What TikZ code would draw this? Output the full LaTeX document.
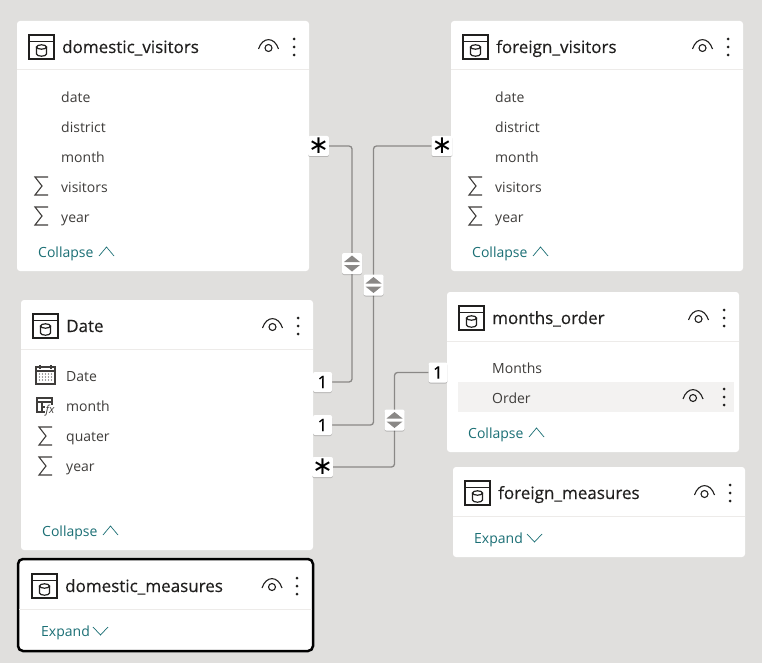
\documentclass[tikz,border=0pt]{standalone}
\usepackage{fontspec}
\setmainfont{Open Sans}
\newfontfamily\titlefont[FakeBold=0.35]{Open Sans}
\newfontfamily\symfont{DejaVu Sans}
\usetikzlibrary{backgrounds,shadows}
\definecolor{canvas}{HTML}{E0DFDD}
\definecolor{rowtxt}{HTML}{3F3D3B}
\definecolor{teal1}{HTML}{1B6F75}
\definecolor{conn1}{HTML}{8A8886}
\definecolor{hl}{HTML}{F3F2F1}
\definecolor{rule1}{HTML}{EDEBE9}
\definecolor{ink}{HTML}{201F1E}
\tikzset{
  x=1pt,y=-1pt,
  softshadow/.style={drop shadow={shadow xshift=0pt,shadow yshift=-1pt,opacity=.18,fill=black}},
  cardbox/.style={fill=white,rounded corners=3pt,inner sep=0pt,outer sep=0pt,anchor=north west},
  selbox/.style={draw=black,line width=2.5pt,rounded corners=5pt,fill=white,inner sep=0pt,outer sep=0pt,anchor=north west},
  titletxt/.style={font=\titlefont\fontsize{17}{20}\selectfont,text=ink,anchor=base west,inner sep=0pt},
  rowlabel/.style={font=\fontsize{14}{17}\selectfont,text=rowtxt,anchor=base west,inner sep=0pt},
  foldlabel/.style={font=\fontsize{14}{17}\selectfont,text=teal1,anchor=base west,inner sep=0pt},
  badge/.style={fill=white,rounded corners=2pt,minimum width=19pt,minimum height=20pt,inner sep=0pt,outer sep=0pt,text=black,softshadow},
  onebadge/.style={badge,font=\titlefont\fontsize{17}{17}\selectfont},
  starbadge/.style={badge,font=\symfont\fontsize{25}{25}\selectfont},
  arrowbadge/.style={fill=white,rounded corners=2pt,minimum width=20pt,minimum height=21pt,inner sep=0pt,outer sep=0pt,softshadow},
  connline/.style={draw=conn1,line width=1.3pt,rounded corners=3pt},
  iconline/.style={draw=ink,line width=1.6pt},
  fieldicon/.style={draw=rowtxt,line width=1.1pt},
  chev/.style={draw=teal1,line width=0.7pt},
  pics/tableicon/.style={code={
    \draw[iconline] (0,0) rectangle (25,24);
    \draw[iconline] (0,6.5) -- (25,6.5);
    \draw[draw=ink,line width=1.2pt] (7.5,12) -- (7.5,19) arc[start angle=180,end angle=360,x radius=5,y radius=-2.2] -- (17.5,12);
    \draw[draw=ink,line width=1.2pt] (12.5,12) ellipse[x radius=5,y radius=2.2];
  }},
  pics/eyeicon/.style={code={
    \draw[draw=ink,line width=1.1pt] (-10,2) .. controls (-6,-10.5) and (6,-10.5) .. (10,2);
    \draw[draw=ink,line width=1.1pt] (0,1) circle[radius=3.5];
  }},
  pics/dotsicon/.style={code={
    \fill[ink] (0,-8) circle[radius=1.5] (0,0) circle[radius=1.5] (0,8) circle[radius=1.5];
  }},
  pics/sigmaicon/.style={code={
    \draw[fieldicon,line join=miter] (13,-9) -- (0,-9) -- (7,0) -- (0,9) -- (13,9);
  }},
  pics/updown/.style={code={
    \fill[conn1] (-8,-1.5) -- (0,-8) -- (8,-1.5) -- cycle;
    \fill[conn1] (-8,1.5) -- (0,8) -- (8,1.5) -- cycle;
  }},
}
% #1 id, #2 x, #3 y, #4 w, #5 h, #6 rule offset, #7 title, #8 box style
\newcommand\tablecard[8]{%
  \node[#8,minimum width=#4pt,minimum height=#5pt] (#1) at (#2,#3) {};
  \draw[rule1,line width=1pt] (#2,#3+#6) -- (#2+#4,#3+#6);
  \pic at (#2+12,#3+14) {tableicon};
  \node[titletxt] (#1-title) at (#2+45,#3+32) {#7};
  \pic at (#2+#4-40.5,#3+26) {eyeicon};
  \pic at (#2+#4-15,#3+26) {dotsicon};
}
\newcommand\upchev[2]{\draw[chev] (#1,#2+9) -- (#1+7.5,#2) -- (#1+15,#2+9);}
\newcommand\downchev[2]{\draw[chev] (#1,#2) -- (#1+7.5,#2+8) -- (#1+15,#2);}
\begin{document}
\begin{tikzpicture}
\useasboundingbox (0,0) rectangle (762,663);
\begin{scope}[on background layer]
  \fill[canvas] (0,0) rectangle (762,663);
\end{scope}

% cards
\tablecard{dv}{17}{21}{292}{250}{49}{domestic\_visitors}{cardbox}
\tablecard{fv}{451}{21}{292}{250}{49}{foreign\_visitors}{cardbox}
\tablecard{dt}{21}{300}{292}{250}{49}{Date}{cardbox}
\tablecard{mo}{447}{292}{292}{160}{49}{months\_order}{cardbox}
\tablecard{fm}{453}{467}{292}{90}{49}{foreign\_measures}{cardbox}
\node[selbox,minimum width=295pt,minimum height=92pt] (dm) at (18,559) {};
\draw[rule1,line width=1pt] (19,609) -- (312,609);
\pic at (32,574) {tableicon};
\node[titletxt] (dm-title) at (65,592) {domestic\_measures};
\pic at (272,586) {eyeicon};
\pic at (297,586) {dotsicon};

% domestic_visitors rows
\node[rowlabel] (dv1) at (61,102.5) {date};
\node[rowlabel] (dv2) at (61,132.5) {district};
\node[rowlabel] (dv3) at (61,162.5) {month};
\node[rowlabel] (dv4) at (61,192) {visitors};
\node[rowlabel] (dv5) at (61,222) {year};
\pic at (35,186) {sigmaicon};
\pic at (35,216) {sigmaicon};
\node[foldlabel] (dvf) at (38,257) {Collapse};
\upchev{99}{247}

% foreign_visitors rows
\node[rowlabel] (fv1) at (495,102.5) {date};
\node[rowlabel] (fv2) at (495,132.5) {district};
\node[rowlabel] (fv3) at (495,162.5) {month};
\node[rowlabel] (fv4) at (495,192) {visitors};
\node[rowlabel] (fv5) at (495,222) {year};
\pic at (469,186) {sigmaicon};
\pic at (469,216) {sigmaicon};
\node[foldlabel] (fvf) at (472,257) {Collapse};
\upchev{533}{247}

% Date rows
\node[rowlabel] (dt1) at (66,381) {Date};
\node[rowlabel] (dt2) at (66,411) {month};
\node[rowlabel] (dt3) at (66,441) {quater};
\node[rowlabel] (dt4) at (66,471) {year};
\draw[fieldicon] (36,367) rectangle (55,384);
\draw[fieldicon] (36,371) -- (55,371);
\draw[fieldicon] (40,365) -- (40,369) (51,365) -- (51,369);
\foreach \gx in {39.5,42.5,45.5,48.5,51.5} \foreach \gy in {374,377,380}
  \fill[rowtxt] (\gx,\gy) circle[radius=0.6];
\draw[fieldicon] (37,398) rectangle (52,412);
\draw[fieldicon] (37,402) -- (52,402) (42,402) -- (42,412) (42,407) -- (52,407);
\node[font=\itshape\fontsize{11}{11}\selectfont,text=rowtxt,fill=white,inner sep=0.3pt] (dtfx) at (50,410.5) {fx};
\pic at (39,436) {sigmaicon};
\pic at (39,466) {sigmaicon};
\node[foldlabel] (dtf) at (42,536) {Collapse};
\upchev{103}{526}

% months_order rows
\fill[hl] (458,382) rectangle (734,412);
\node[rowlabel] (mo1) at (492,373) {Months};
\node[rowlabel] (mo2) at (492,403) {Order};
\pic at (693,397) {eyeicon};
\pic at (724,397) {dotsicon};
\node[foldlabel] (mof) at (468,438) {Collapse};
\upchev{529}{428}

% collapsed tables
\node[foldlabel] (fmf) at (474,543) {Expand};
\downchev{527}{534}
\node[foldlabel] (dmf) at (41,636) {Expand};
\downchev{93}{627}

% badges
\node[starbadge] (dvstar) at (318.5,146) {∗};
\node[starbadge] (fvstar) at (442,146) {∗};
\node[onebadge] (dtone) at (322.5,382) {1};
\node[onebadge] (dttwo) at (322.5,425) {1};
\node[starbadge] (dtstar) at (322.5,467) {∗};
\node[onebadge] (moone) at (438,372.5) {1};
\node[arrowbadge] (ar1) at (352,263.5) {};
\node[arrowbadge] (ar2) at (373.5,285) {};
\node[arrowbadge] (ar3) at (394.5,420) {};
\pic at (ar1) {updown};
\pic at (ar2) {updown};
\pic at (ar3) {updown};

% connectors
\begin{scope}[on background layer]
  \draw[connline] (dvstar.east) -| (ar1.center) |- (dtone.east);
  \draw[connline] (fvstar.west) -| (ar2.center) |- (dttwo.east);
  \draw[connline] (moone.west) -| (ar3.center) |- (dtstar.east);
\end{scope}
\end{tikzpicture}
\end{document}
